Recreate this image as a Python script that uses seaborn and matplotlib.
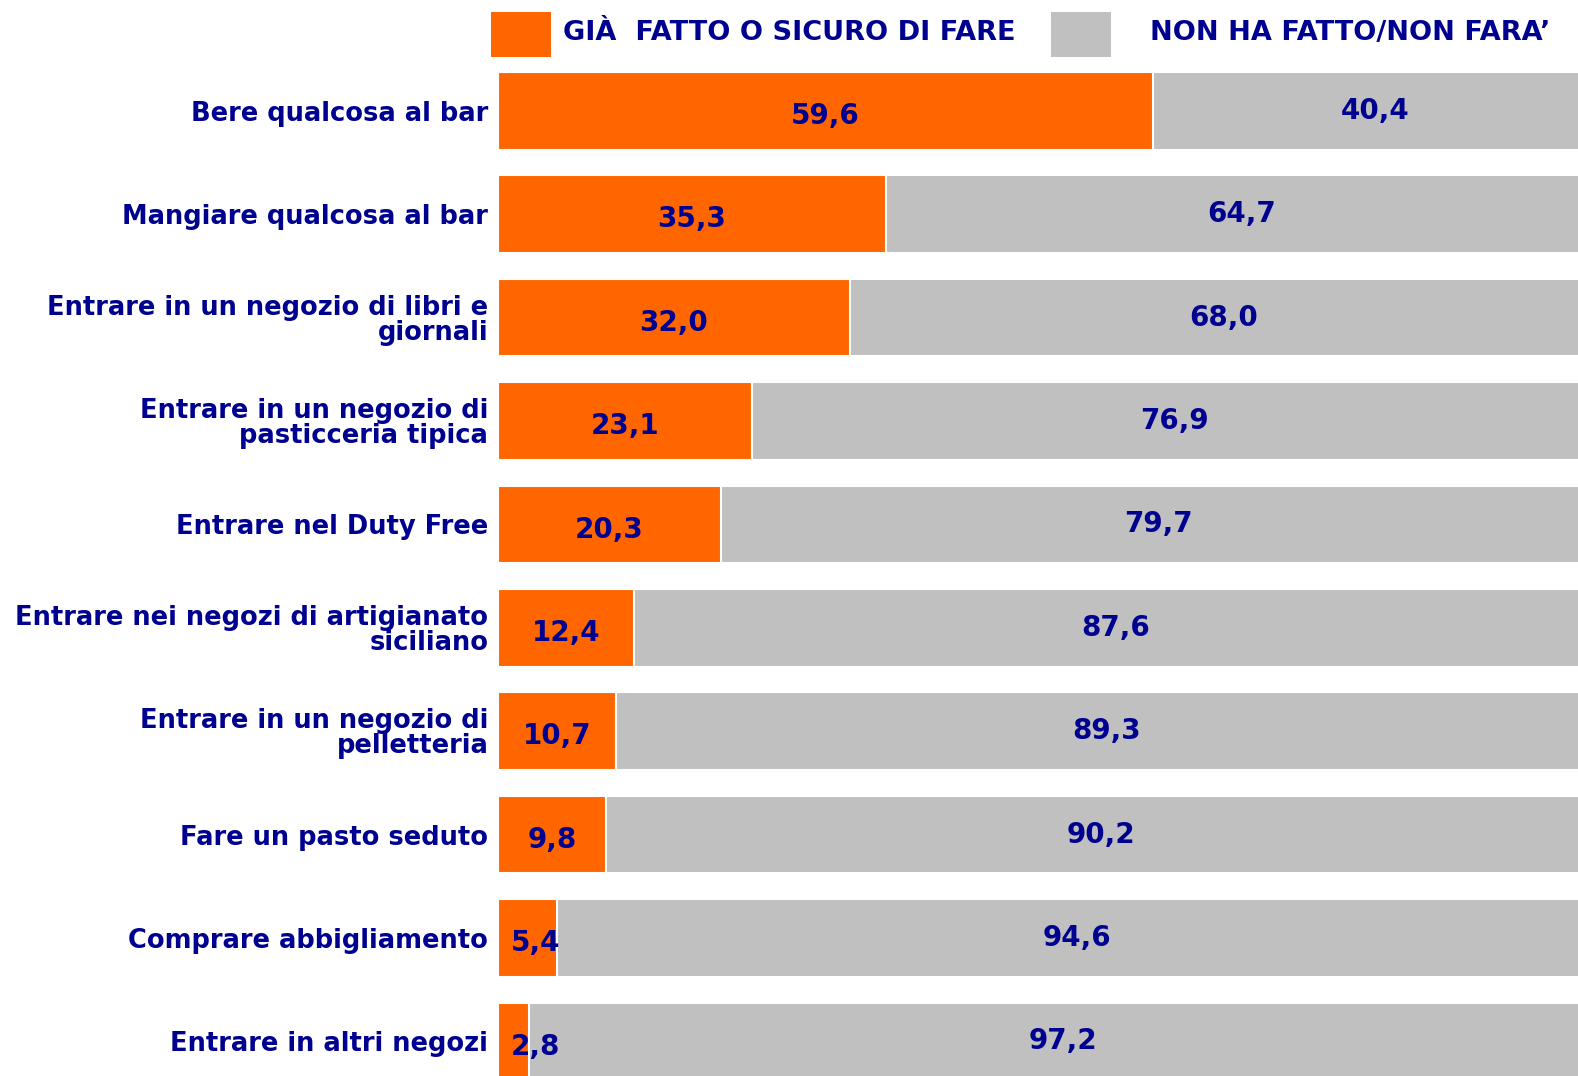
import matplotlib
matplotlib.use("Agg")
import matplotlib.pyplot as plt
from matplotlib.patches import Rectangle
import seaborn as sns
import pandas as pd

categories = [
    "Bere qualcosa al bar",
    "Mangiare qualcosa al bar",
    "Entrare in un negozio di libri e\ngiornali",
    "Entrare in un negozio di\npasticceria tipica",
    "Entrare nel Duty Free",
    "Entrare nei negozi di artigianato\nsiciliano",
    "Entrare in un negozio di\npelletteria",
    "Fare un pasto seduto",
    "Comprare abbigliamento",
    "Entrare in altri negozi",
]
fatto = [59.6, 35.3, 32.0, 23.1, 20.3, 12.4, 10.7, 9.8, 5.4, 2.8]
non_fatto = [40.4, 64.7, 68.0, 76.9, 79.7, 87.6, 89.3, 90.2, 94.6, 97.2]
legend_labels = ["GIÀ  FATTO O SICURO DI FARE", "NON HA FATTO/NON FARA’"]

ORANGE = "#FF6600"
GREY = "#C0C0C0"
NAVY = "#000090"

df = pd.DataFrame({"cat": categories, "fatto": fatto, "non_fatto": non_fatto})
df["totale"] = df["fatto"] + df["non_fatto"]

sns.set_theme(style="white")
plt.rcParams["font.family"] = ["DejaVu Sans"]

fig = plt.figure(figsize=(15.78, 10.76), dpi=100)
ax = fig.add_axes([498 / 1578, 0, 1 - 498 / 1578, 1 - 72 / 1076])

sns.barplot(data=df, x="totale", y="cat", order=categories, color=GREY, saturation=1,
            width=0.75, edgecolor="white", linewidth=1.5, ax=ax)
sns.barplot(data=df, x="fatto", y="cat", order=categories, color=ORANGE, saturation=1,
            width=0.75, edgecolor="white", linewidth=1.5, ax=ax)

ax.set_xlim(0, 98.3)
ax.set_ylim(9.335, -0.375)
ax.set_xlabel("")
ax.set_ylabel("")
ax.set_xticks([])
for s in ax.spines.values():
    s.set_visible(False)
ax.tick_params(axis="y", length=0, pad=7)
ax.set_yticks(range(len(categories)))
ax.set_yticklabels(categories, fontsize=18.5, fontweight="bold", color=NAVY, linespacing=0.95)

# value labels
for i, (a, b) in enumerate(zip(fatto, non_fatto)):
    ax.text(max(a / 2, 3.4), i + 0.05, f"{a:.1f}".replace(".", ","), ha="center", va="center",
            fontsize=20, fontweight="bold", color=NAVY)
    ax.text(a + b / 2, i, f"{b:.1f}".replace(".", ","), ha="center", va="center",
            fontsize=20, fontweight="bold", color=NAVY)

# legend at the top
W, H = 1578, 1076
for x0, col, lab in [(491, ORANGE, legend_labels[0]), (1051, GREY, legend_labels[1])]:
    fig.patches.append(Rectangle((x0 / W, 1 - 57 / H), 60 / W, 45 / H, transform=fig.transFigure,
                                 facecolor=col, edgecolor="none"))
    tx = 563 if col == ORANGE else 1150
    fig.text(tx / W, 1 - 33 / H, lab, ha="left", va="center", fontsize=19.5,
             fontweight="bold", color=NAVY)

fig.savefig("out.png", dpi=100)
